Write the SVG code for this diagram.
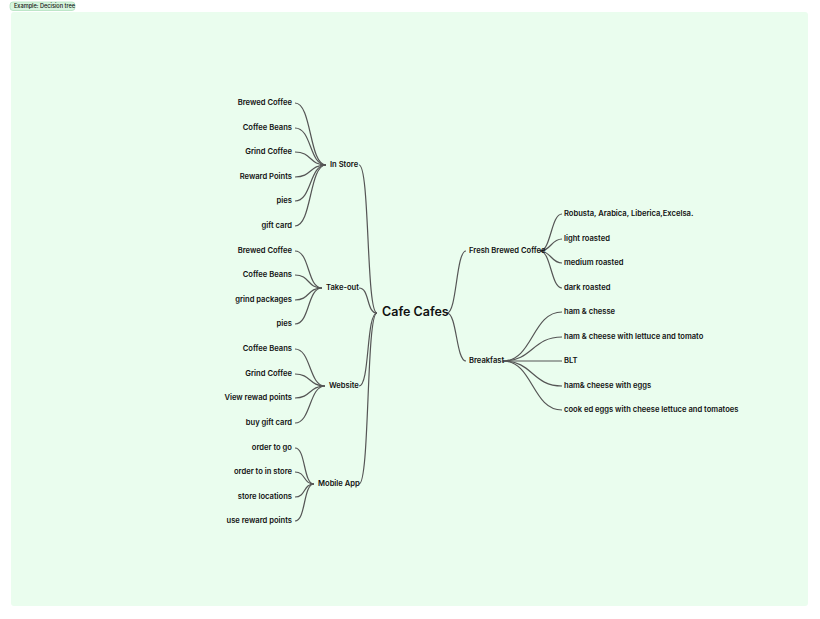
<svg xmlns="http://www.w3.org/2000/svg" width="820" height="619" viewBox="0 0 820 619">
<style>
text{font-family:Inter,"Liberation Sans",sans-serif;font-size:7.6px;font-weight:600;fill:#111;dominant-baseline:middle}
.r{text-anchor:end}
.c path{fill:none;stroke:#555;stroke-width:1.2}
</style>
<rect x="0" y="0" width="820" height="619" fill="#fff"/>
<rect x="11" y="12" width="797" height="594" rx="3" fill="#eafdee"/>
<rect x="10" y="2" width="65" height="8.5" rx="3" fill="#d8f5df" stroke="#9dd8ac" stroke-width="0.6"/>
<text x="14" y="6.5" style="font-size:5.6px;font-weight:500">Example: Decision tree</text>
<g class="c" id="connectors">
<path d="M377,313 C366,313 370,165 359,165"/>
<path d="M377,313 C366,313 370,288 359,288"/>
<path d="M377,313 C366,313 370,386 359,386"/>
<path d="M377,313 C366,313 370,484 359,484"/>
<path d="M447,313 C457,313 456,251 466,251"/>
<path d="M447,313 C457,313 456,361 466,361"/>
<path d="M295,103 C312,103 309,165 326,165"/><path d="M295,128 C312,128 309,165 326,165"/><path d="M295,152 C312,152 309,165 326,165"/><path d="M295,177 C312,177 309,165 326,165"/><path d="M295,201 C312,201 309,165 326,165"/><path d="M295,226 C312,226 309,165 326,165"/>
<path d="M295,251 C310,251 307,288 322,288"/><path d="M295,275 C310,275 307,288 322,288"/><path d="M295,300 C310,300 307,288 322,288"/><path d="M295,324 C310,324 307,288 322,288"/>
<path d="M295,349 C311,349 309,386 325,386"/><path d="M295,374 C311,374 309,386 325,386"/><path d="M295,398 C311,398 309,386 325,386"/><path d="M295,423 C311,423 309,386 325,386"/>
<path d="M295,448 C306,448 303,484 314,484"/><path d="M295,472 C306,472 303,484 314,484"/><path d="M295,497 C306,497 303,484 314,484"/><path d="M295,521 C306,521 303,484 314,484"/>
<path d="M540,251 C551,251 551,214 562,214"/><path d="M540,251 C551,251 551,239 562,239"/><path d="M540,251 C551,251 551,263 562,263"/><path d="M540,251 C551,251 551,288 562,288"/>
<path d="M503,361 C533,361 532,312 562,312"/><path d="M503,361 C533,361 532,337 562,337"/><path d="M503,361 L562,361"/><path d="M503,361 C533,361 532,386 562,386"/><path d="M503,361 C533,361 532,410 562,410"/>
</g>
<g id="root"><text x="382" y="313" style="font-size:12.5px">Cafe Cafes</text></g>
<g id="instore"><text x="330" y="165">In Store</text></g>
<g id="takeout"><text x="326" y="288">Take-out</text></g>
<g id="website"><text x="329" y="386">Website</text></g>
<g id="mobile"><text x="318" y="484">Mobile App</text></g>
<g id="fbc"><text x="469" y="251">Fresh Brewed Coffee</text></g>
<g id="breakfast"><text x="469" y="361">Breakfast</text></g>
<g id="left-leaves">
<text class="r" x="292" y="103">Brewed Coffee</text><text class="r" x="292" y="128">Coffee Beans</text><text class="r" x="292" y="152">Grind Coffee</text><text class="r" x="292" y="177">Reward Points</text><text class="r" x="292" y="201">pies</text><text class="r" x="292" y="226">gift card</text>
<text class="r" x="292" y="251">Brewed Coffee</text><text class="r" x="292" y="275">Coffee Beans</text><text class="r" x="292" y="300">grind packages</text><text class="r" x="292" y="324">pies</text>
<text class="r" x="292" y="349">Coffee Beans</text><text class="r" x="292" y="374">Grind Coffee</text><text class="r" x="292" y="398">View rewad points</text><text class="r" x="292" y="423">buy gift card</text>
<text class="r" x="292" y="448">order to go</text><text class="r" x="292" y="472">order to in store</text><text class="r" x="292" y="497">store locations</text><text class="r" x="292" y="521">use reward points</text>
</g>
<g id="right-leaves">
<text x="564" y="214">Robusta, Arabica, Liberica,Excelsa.</text><text x="564" y="239">light roasted</text><text x="564" y="263">medium roasted</text><text x="564" y="288">dark roasted</text>
<text x="564" y="312">ham &amp; chesse</text><text x="564" y="337">ham &amp; cheese with lettuce and tomato</text><text x="564" y="361">BLT</text><text x="564" y="386">ham&amp; cheese with eggs</text><text x="564" y="410">cook ed eggs with cheese lettuce and tomatoes</text>
</g>
</svg>
